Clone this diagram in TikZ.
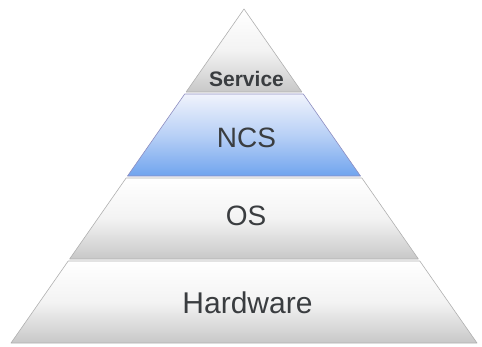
\documentclass[tikz,border=0pt]{standalone}
\usepackage{fontspec}
\setmainfont{Liberation Sans}
\definecolor{txt}{HTML}{3A3D40}
\definecolor{edge}{HTML}{B0B0B0}
\definecolor{graybot}{HTML}{C8C8C8}
\definecolor{graymid}{HTML}{F3F3F3}
\definecolor{bluetop}{HTML}{F0F3FC}
\definecolor{bluemid}{HTML}{B8D0F6}
\definecolor{bluebot}{HTML}{70A4EE}
\tikzset{
  graylayer/.style={draw=edge, line width=0.6pt, top color=white, bottom color=graybot, middle color=graymid, line join=round},
  bluelayer/.style={draw=edge!80!blue, line width=0.6pt, top color=bluetop, bottom color=bluebot, middle color=bluemid, line join=round},
  bigtext/.style={text=txt, font=\fontsize{28}{30}\selectfont, inner sep=0pt},
  smalltext/.style={text=txt, font=\bfseries\fontsize{21}{23}\selectfont, inner sep=0pt}
}
\begin{document}
\begin{tikzpicture}[x=1pt,y=-1pt]
\useasboundingbox (0,0) rectangle (482,346);
% layers
\path[graylayer] (244,9) -- (301.9,92) -- (186.1,92) -- cycle;
\path[bluelayer] (184.7,94) -- (303.3,94) -- (360.5,176) -- (127.5,176) -- cycle;
\path[graylayer] (126.1,178) -- (361.9,178) -- (418.4,259) -- (69.6,259) -- cycle;
\path[graylayer] (68.2,261) -- (419.8,261) -- (477,343) -- (11,343) -- cycle;
% labels
\node[smalltext] (service) at (246.5,79) {Service};
\node[bigtext] (ncs) at (246.5,138) {NCS};
\node[bigtext] (os) at (246,216) {OS};
\node[bigtext, font=\fontsize{30}{32}\selectfont] (hw) at (247.5,303) {Hardware};
\end{tikzpicture}
\end{document}
